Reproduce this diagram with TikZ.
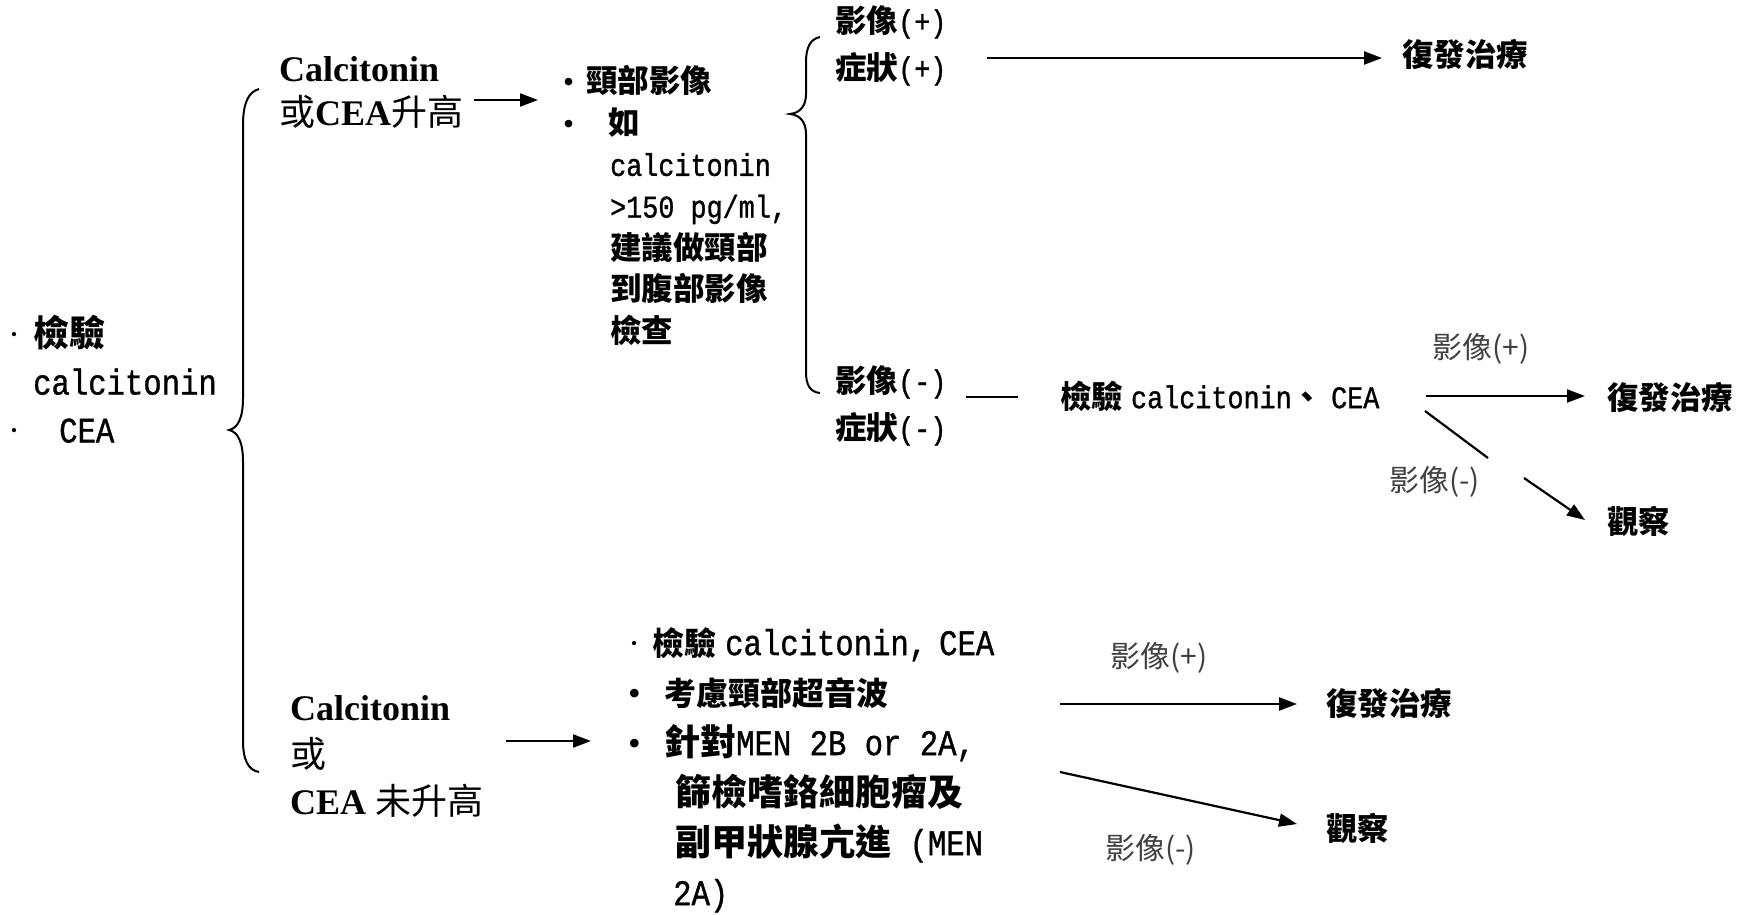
\documentclass[tikz,border=0pt]{standalone}
\usepackage{fontspec}
\setmainfont{Liberation Serif}
\newfontfamily\cjk{Noto Sans CJK TC}
\newfontfamily\mono[FakeStretch=0.85,FakeBold=1]{Liberation Mono}
\usetikzlibrary{arrows.meta}
\newcommand\zb[1]{{\cjk\bfseries #1}}
\newcommand\zr[1]{{\cjk #1}}
\newcommand\mo[1]{{\mono #1}}
\begin{document}
\begin{tikzpicture}[x=1pt,y=-1pt,
  txt/.style={inner sep=0pt,anchor=west},
  blk/.style={inner sep=0pt,anchor=north west,align=left},
  lbl/.style={inner sep=0pt,anchor=west,text=black!75,font=\cjk\fontsize{30}{34}\selectfont},
  arr/.style={line width=2.2pt,-{Triangle[length=18pt,width=13pt]}},
  ln/.style={line width=2.2pt},
  brace/.style={line width=2pt}]
\useasboundingbox (0,0) rectangle (1750,914);

% left list
\node[blk,font=\fontsize{36}{48}\selectfont] (l0) at (8,315)
  {\makebox[25pt][l]{·}\zb{檢驗}\\
   \hspace*{25pt}\mo{calcitonin}\\
   \makebox[51pt][l]{·}\mo{CEA}};

% big brace
\draw[brace] (259,89) .. controls (248,92) and (243,104) .. (243,125) -- (243,398)
  .. controls (243,418) and (238,428) .. (229,430)
  .. controls (238,432) and (243,442) .. (243,462) -- (243,740)
  .. controls (243,760) and (248,770) .. (259,772);

% upper branch
\node[blk,font=\fontsize{36}{44}\selectfont] (c1) at (279,56)
  {\textbf{Calcitonin}\\ \zr{或}\textbf{CEA}\zr{升高}};
\coordinate (a1s) at (474,100);
\coordinate (a1e) at (538,100);
\draw[arr] (a1s) -- (a1e);

\node[blk,font=\fontsize{31.5}{41.7}\selectfont] (l1) at (563,65)
  {\makebox[23pt][l]{•}\zb{頸部影像}\\
   \makebox[45pt][l]{•}\zb{如}\\
   \hspace*{47pt}\mo{calcitonin}\\
   \hspace*{47pt}\mo{>150 pg/ml,}\\
   \hspace*{47pt}\zb{建議做頸部}\\
   \hspace*{47pt}\zb{到腹部影像}\\
   \hspace*{47pt}\zb{檢查}};

% second brace
\draw[brace] (820,37) .. controls (810,39) and (806,48) .. (806,62) -- (806,94)
  .. controls (806,106) and (800,113) .. (790,114)
  .. controls (800,115) and (806,122) .. (806,134) -- (806,372)
  .. controls (806,385) and (810,392) .. (820,393);

\node[txt,font=\fontsize{31.5}{36}\selectfont] (ip1) at (835,22) {\zb{影像}\mo{(+)}};
\node[txt,font=\fontsize{31.5}{36}\selectfont] (sp1) at (835,69) {\zb{症狀}\mo{(+)}};
\node[txt,font=\fontsize{31.5}{36}\selectfont] (im1) at (835,382) {\zb{影像}\mo{(-)}};
\node[txt,font=\fontsize{31.5}{36}\selectfont] (sm1) at (835,429) {\zb{症狀}\mo{(-)}};

\node[txt,font=\fontsize{31.5}{36}\selectfont] (r1) at (1402,55) {\zb{復發治療}};
\coordinate (a2s) at (987,58);
\coordinate (a2e) at (1382,58);
\draw[arr] (a2s) -- (a2e);

\coordinate (d1s) at (966,397);
\coordinate (d1e) at (1018,397);
\draw[ln] (d1s) -- (d1e);

\node[txt,font=\fontsize{31.5}{36}\selectfont] (chk) at (1060,396)
  {\zb{檢驗} \mo{calcitonin}\zb{、} \mo{CEA}};
\node[lbl] (g1) at (1432,349) {影像(+)};
\node[txt,font=\fontsize{31.5}{36}\selectfont] (r2) at (1607,398) {\zb{復發治療}};
\coordinate (a3s) at (1426,396);
\coordinate (a3e) at (1585,396);
\draw[arr] (a3s) -- (a3e);

\node[lbl] (g2) at (1389,482) {影像(-)};
\node[txt,font=\fontsize{31.5}{36}\selectfont] (o1) at (1607,521) {\zb{觀察}};
\coordinate (a4s) at (1425,411);
\coordinate (a4m) at (1488,458);
\coordinate (a4n) at (1524,478);
\coordinate (a4e) at (1585,520);
\draw[ln] (a4s) -- (a4m);
\draw[arr] (a4n) -- (a4e);

% lower branch
\node[blk,font=\fontsize{36}{47}\selectfont] (c2) at (290,695)
  {\textbf{Calcitonin}\\ \zr{或}\\ \textbf{CEA} \zr{未升高}};
\coordinate (a5s) at (506,741);
\coordinate (a5e) at (591,741);
\draw[arr] (a5s) -- (a5e);

\node[blk,font=\fontsize{36}{50}\selectfont] (l2) at (628,627)
  {\makebox[24pt][l]{·}{\fontsize{32}{50}\selectfont\zb{檢驗}} \mo{calcitonin,\hspace{12pt}CEA}\\
   \makebox[36pt][l]{•}{\fontsize{32}{50}\selectfont\zb{考慮頸部超音波}}\\
   \makebox[36pt][l]{•}\zb{針對}\mo{MEN 2B or 2A,}\\
   \hspace*{47pt}\zb{篩檢嗜鉻細胞瘤及}\\
   \hspace*{47pt}\zb{副甲狀腺亢進}\mo{ (MEN}\\
   \hspace*{45pt}\mo{2A)}};

\node[lbl] (g3) at (1110,658) {影像(+)};
\node[txt,font=\fontsize{31.5}{36}\selectfont] (r3) at (1326,704) {\zb{復發治療}};
\coordinate (a6s) at (1060,704);
\coordinate (a6e) at (1297,704);
\draw[arr] (a6s) -- (a6e);

\node[lbl] (g4) at (1105,850) {影像(-)};
\node[txt,font=\fontsize{31.5}{36}\selectfont] (o2) at (1326,828) {\zb{觀察}};
\coordinate (a7s) at (1060,772);
\coordinate (a7e) at (1297,824);
\draw[arr] (a7s) -- (a7e);
\end{tikzpicture}
\end{document}
